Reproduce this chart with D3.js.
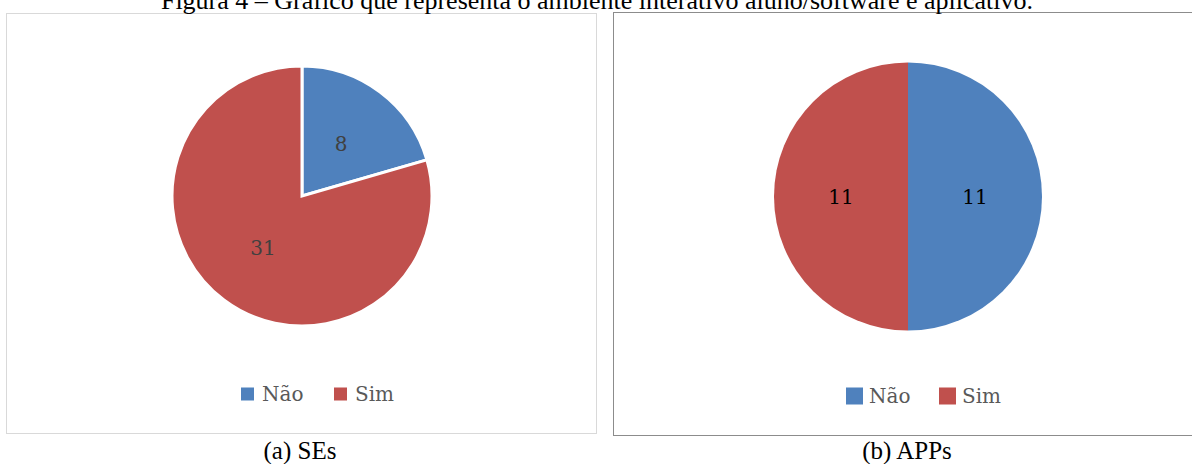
<!DOCTYPE html>
<html>
<head>
<meta charset="utf-8">
<script src="https://cdn.jsdelivr.net/npm/d3@7"></script>
<style>
  body { margin: 0; background: #fff; }
  svg { display: block; }
</style>
</head>
<body>
<svg width="1192" height="464"></svg>
<script>
var categories = ["Não", "Sim"];
var valuesSEs = [8, 31];
var valuesAPPs = [11, 11];
var colors = ["#4F81BD", "#C0504D"];
var titleText = "Figura 4 – Gráfico que representa o ambiente interativo aluno/software e aplicativo.";
var captions = ["(a) SEs", "(b) APPs"];

var svg = d3.select("svg");
var color = d3.scaleOrdinal().domain(categories).range(colors);

// panel frames
svg.append("rect")
    .attr("x", 6.5).attr("y", 13.5)
    .attr("width", 590).attr("height", 420)
    .attr("fill", "none")
    .attr("stroke", "#d9d9d9");
svg.append("rect")
    .attr("x", 613.5).attr("y", 12.5)
    .attr("width", 600).attr("height", 423)
    .attr("fill", "none")
    .attr("stroke", "#8c8c8c");

// title is cut off at the top, as in the source figure
svg.append("text")
    .attr("x", 597).attr("y", 9)
    .attr("text-anchor", "middle")
    .attr("font-family", "Liberation Serif")
    .attr("font-size", "26px")
    .text(titleText);

function drawPie(values, cx, cy, r, gap, labelColor, leg) {
    var data = categories.map(function(c, i) { return {name: c, value: values[i]}; });
    var pie = d3.pie().sort(null).value(function(d) { return d.value; });
    var arc = d3.arc().innerRadius(0).outerRadius(r);
    var g = svg.append("g").attr("transform", "translate(" + cx + "," + cy + ")");
    var arcs = pie(data);
    g.selectAll("path").data(arcs).enter()
        .append("path")
        .attr("d", arc)
        .attr("fill", function(d) { return color(d.data.name); })
        .attr("stroke", gap > 0 ? "#fff" : "none")
        .attr("stroke-width", gap);
    g.selectAll("text").data(arcs).enter()
        .append("text")
        .attr("x", function(d) { return arc.centroid(d)[0]; })
        .attr("y", function(d) { return arc.centroid(d)[1]; })
        .attr("dy", "0.36em")
        .attr("text-anchor", "middle")
        .attr("font-family", "DejaVu Serif")
        .attr("font-size", "20px")
        .attr("fill", labelColor)
        .text(function(d) { return d.data.value; });

    // legend
    var lg = svg.append("g");
    categories.forEach(function(c, i) {
        lg.append("rect")
            .attr("x", leg.x[i]).attr("y", leg.y - leg.size / 2)
            .attr("width", leg.size).attr("height", leg.size)
            .attr("fill", color(c));
        lg.append("text")
            .attr("x", leg.x[i] + leg.size + leg.pad)
            .attr("y", leg.y)
            .attr("dy", "0.36em")
            .attr("font-family", "DejaVu Serif")
            .attr("font-size", "20px")
            .attr("fill", "#595959")
            .text(c);
    });
}

drawPie(valuesSEs, 302, 196, 130, 3, "#404040", {x: [241, 334], y: 394, size: 13, pad: 8});
drawPie(valuesAPPs, 908, 196.5, 134, 0, "#000", {x: [846, 939], y: 396, size: 17, pad: 6});

svg.append("text")
    .attr("x", 300).attr("y", 459)
    .attr("text-anchor", "middle")
    .attr("font-family", "Liberation Serif")
    .attr("font-size", "25px")
    .text(captions[0]);
svg.append("text")
    .attr("x", 907).attr("y", 459)
    .attr("text-anchor", "middle")
    .attr("font-family", "Liberation Serif")
    .attr("font-size", "25px")
    .text(captions[1]);
</script>
</body>
</html>
